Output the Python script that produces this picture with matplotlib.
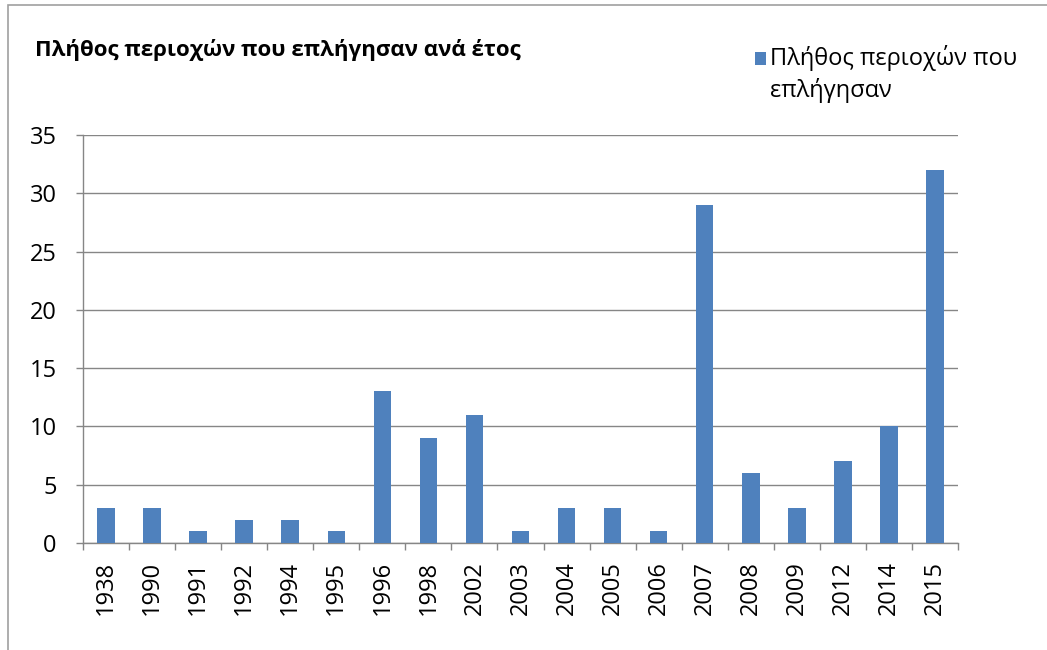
import matplotlib.pyplot as plt
import numpy as np
from matplotlib.patches import Rectangle

plt.rcParams['font.family'] = ['Open Sans', 'DejaVu Sans']

# έτη και πλήθος περιοχών
years = ['1938', '1990', '1991', '1992', '1994', '1995', '1996', '1998', '2002', '2003',
         '2004', '2005', '2006', '2007', '2008', '2009', '2012', '2014', '2015']
counts = [3, 3, 1, 2, 2, 1, 13, 9, 11, 1, 3, 3, 1, 29, 6, 3, 7, 10, 32]

title = 'Πλήθος περιοχών που επλήγησαν ανά έτος'
series_name = 'Πλήθος περιοχών που\nεπλήγησαν'

bar_color = '#4F81BD'
grid_color = '#868686'

fig = plt.figure(figsize=(10.47, 6.5), dpi=100)
ax = fig.add_axes([83 / 1047, 1 - 543 / 650, (958 - 83) / 1047, (543 - 135) / 650])

# πλαίσιο γραφήματος
fig.patches.append(Rectangle((8 / 1047, -0.1), 1.2, 1 - 5 / 650 + 0.1,
                             transform=fig.transFigure, fill=False,
                             edgecolor='#A0A0A0', linewidth=1.2))

x = np.arange(len(years))
ax.bar(x, counts, width=0.38, color=bar_color, zorder=3, label=series_name)

ax.set_xlim(-0.5, len(years) - 0.5)
ax.set_ylim(0, 35)
ax.set_yticks(range(0, 36, 5))
ax.yaxis.grid(True, color=grid_color, linewidth=1.0, zorder=0)

# υποδιαιρέσεις άξονα x ανάμεσα στις κατηγορίες
ax.set_xticks(np.arange(-0.5, len(years), 1.0))
ax.set_xticklabels([])
ax.set_xticks(x, minor=True)
ax.set_xticklabels(years, minor=True, rotation=90, fontsize=17)
ax.tick_params(axis='x', which='major', length=5, color=grid_color, width=1)
ax.tick_params(axis='x', which='minor', length=0, pad=13)
ax.tick_params(axis='y', length=5, color=grid_color, width=1, labelsize=17, pad=14)

for side in ['top', 'right']:
    ax.spines[side].set_visible(False)
for side in ['left', 'bottom']:
    ax.spines[side].set_color(grid_color)
    ax.spines[side].set_linewidth(1.0)

fig.text(35 / 1047, 1 - 50 / 650, title, fontsize=16, fontweight='bold',
         va='center', ha='left')

leg = fig.legend(loc='upper left', bbox_to_anchor=(746 / 1047, 1 - 36 / 650),
                 frameon=False, fontsize=17, handlelength=0.45, handleheight=0.45,
                 handletextpad=0.15, borderaxespad=0)
leg.get_texts()[0].set_linespacing(1.35)
# τετράγωνο υπομνήματος στο ύψος της πρώτης γραμμής
h = leg.legend_handles[0]
h.set_y(h.get_y() + 12)

fig.savefig('out.png', dpi=100)
